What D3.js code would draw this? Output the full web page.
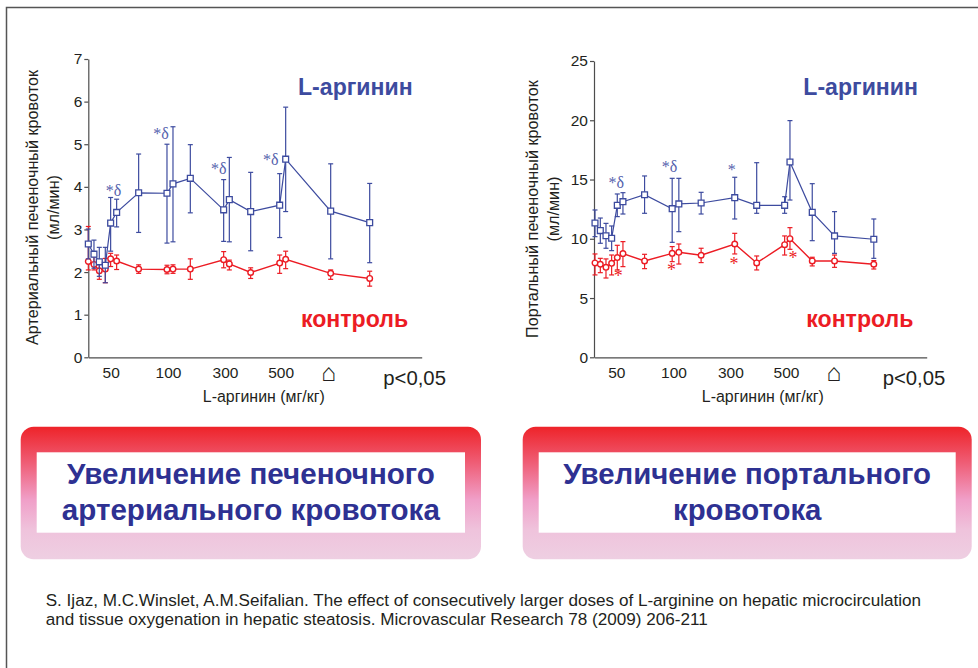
<!DOCTYPE html>
<html lang="ru">
<head>
<meta charset="utf-8">
<script src="https://cdn.jsdelivr.net/npm/d3@7"></script>
<style>
  body { margin: 0; background: #fff; }
  svg text { font-family: "Liberation Sans", Arial, Helvetica, sans-serif; }
</style>
</head>
<body>
<svg id="slide" width="978" height="668"></svg>
<script>
// x axis: dose labels placed along the time course (arbitrary units 0..100)
const doseTickT = [6.7, 23.9, 41, 57.7, 72];
const doseTicks = ["50", "100", "300", "500", "\u2302"];

// arterial flow (ml/min)
const artT = [0, 1.7, 3.3, 5.1, 6.7, 8.5, 15.1, 23.6, 25.4, 30.6, 40.6, 42.3, 48.7, 57.4, 59.2, 72.7, 84.4];
const artArg = [2.66, 2.42, 2.24, 2.16, 3.15, 3.40, 3.86, 3.85, 4.07, 4.20, 3.46, 3.70, 3.42, 3.57, 4.65, 3.43, 3.16];
const artArgUp = [0.35, 0.33, 0.34, 0.42, 0.60, 0.31, 0.91, 1.15, 1.34, 0.79, 0.71, 0.99, 0.92, 0.74, 1.22, 1.11, 0.92];
const artArgDn = [0.35, 0.33, 0.34, 0.41, 0.66, 0.34, 0.93, 1.17, 1.36, 0.81, 0.74, 0.99, 0.92, 0.76, 1.23, 1.12, 0.94];
const artCtl = [2.25, 2.18, 2.03, 2.07, 2.31, 2.26, 2.07, 2.06, 2.07, 2.07, 2.29, 2.19, 1.99, 2.21, 2.30, 1.97, 1.85];
const artCtlUp = [0.82, 0.18, 0.16, 0.25, 0.13, 0.14, 0.10, 0.10, 0.10, 0.24, 0.19, 0.09, 0.11, 0.19, 0.19, 0.08, 0.17];
const artCtlDn = [0.20, 0.13, 0.20, 0.32, 0.18, 0.20, 0.10, 0.10, 0.10, 0.24, 0.19, 0.14, 0.14, 0.24, 0.22, 0.14, 0.18];
const artYTicks = [0, 1, 2, 3, 4, 5, 6, 7];
const artNotesT = [7.6, 21.8, 39.1, 54.7];
const artNotesV = [3.79, 5.12, 4.30, 4.51];

// portal flow (ml/min)
const porT = [0.3, 1.9, 3.6, 5.3, 7.0, 8.7, 15.2, 23.5, 25.5, 32.2, 42.3, 48.9, 57.3, 58.9, 65.6, 72.3, 84.1];
const porArg = [11.33, 10.69, 10.26, 10.04, 12.82, 13.13, 13.72, 12.54, 12.94, 13.02, 13.47, 12.82, 12.82, 16.48, 12.23, 10.24, 9.96];
const porArgUp = [1.10, 1.06, 1.04, 1.04, 0.96, 0.76, 1.58, 2.56, 2.16, 0.90, 1.72, 3.60, 0.73, 3.49, 2.42, 2.05, 1.71];
const porArgDn = [1.15, 1.07, 1.06, 1.04, 0.95, 1.04, 1.57, 2.84, 2.34, 0.93, 1.80, 0.67, 0.67, 3.21, 2.39, 1.47, 1.61];
const porCtl = [7.96, 7.85, 7.59, 7.93, 8.41, 8.75, 8.13, 8.77, 8.86, 8.61, 9.56, 7.96, 9.50, 10.01, 8.13, 8.13, 7.85];
const porCtlUp = [0.76, 0.50, 0.71, 0.70, 1.04, 1.01, 0.56, 0.57, 0.70, 0.59, 0.90, 0.59, 0.74, 0.93, 0.31, 0.50, 0.31];
const porCtlDn = [1.01, 0.71, 0.90, 0.98, 1.04, 1.10, 0.65, 0.70, 0.99, 0.62, 0.84, 0.59, 0.87, 0.90, 0.42, 0.54, 0.40];
const porYTicks = [0, 5, 10, 15, 20, 25];
const porNotesT = [6.7, 22.7, 41.4];
const porNotesV = [14.26, 15.66, 15.36];
const porNotesTxt = ["*\u03b4", "*\u03b4", "*"];
const porCtlNotesT = [7.3, 23.3, 42.1, 59.8];
const porCtlNotesV = [6.35, 6.84, 7.39, 7.90];

const citation = [
    "S. Ijaz, M.C.Winslet, A.M.Seifalian. The effect of consecutively larger doses of L-arginine on hepatic microcirculation",
    "and tissue oxygenation in hepatic steatosis. Microvascular Research 78 (2009) 206-211"
];

const BLUE = "#3d4b9f",
    RED = "#ec1c24",
    NAVY = "#2e3192",
    AXIS = "#4d4d4d",
    INK = "#231f20";

const svg = d3.select("#slide");

/**
 * scale the font of a text node so that its advance width becomes w,
 * returns the font size used
 */
function fitWidth(node, w) {
    const fs = parseFloat(getComputedStyle(node).fontSize);
    const size = fs * w / node.getComputedTextLength();
    d3.select(node).style("font-size", size.toFixed(2) + "px");
    return size;
}

// page frame (top and left rule)
svg.append("path")
    .attr("d", "M6.5,668V7.5H978")
    .attr("fill", "none")
    .attr("stroke", "#555")
    .attr("stroke-width", 1.5);

// box gradient
const grad = svg.append("defs").append("linearGradient")
    .attr("id", "boxGrad")
    .attr("x1", 0).attr("y1", 0).attr("x2", 0).attr("y2", 1);
[["0%", "#ee2329"], ["28%", "#ef5f78"], ["55%", "#f09fc8"], ["78%", "#efc3dc"], ["100%", "#eecfe2"]]
    .forEach(s => grad.append("stop").attr("offset", s[0]).attr("stop-color", s[1]));

/**
 * draw one series: connecting line, error bars, then markers
 */
function drawSeries(g, x, y, t, mean, up, dn, color, shape) {
    const s = g.append("g");

    s.append("path")
        .datum(mean)
        .attr("fill", "none")
        .attr("stroke", color)
        .attr("stroke-width", shape === "square" ? 1.2 : 1.4)
        .attr("d", d3.line().x((d, i) => x(t[i])).y(d => y(d)));

    const bars = s.selectAll("g.err")
        .data(mean)
        .enter()
        .append("g")
        .attr("class", "err")
        .attr("stroke", color)
        .attr("stroke-width", 1.2);

    bars.append("line")
        .attr("x1", (d, i) => x(t[i])).attr("x2", (d, i) => x(t[i]))
        .attr("y1", (d, i) => y(d + up[i])).attr("y2", (d, i) => y(d - dn[i]));
    bars.append("line")
        .attr("x1", (d, i) => x(t[i]) - 2.5).attr("x2", (d, i) => x(t[i]) + 2.5)
        .attr("y1", (d, i) => y(d + up[i])).attr("y2", (d, i) => y(d + up[i]));
    bars.append("line")
        .attr("x1", (d, i) => x(t[i]) - 2.5).attr("x2", (d, i) => x(t[i]) + 2.5)
        .attr("y1", (d, i) => y(d - dn[i])).attr("y2", (d, i) => y(d - dn[i]));

    if (shape === "square") {
        s.selectAll("path.mark")
            .data(mean)
            .enter()
            .append("path")
            .attr("class", "mark")
            .attr("d", d3.symbol(d3.symbolSquare, 34))
            .attr("transform", (d, i) => `translate(${x(t[i])},${y(d)})`)
            .attr("fill", "#fff")
            .attr("stroke", color)
            .attr("stroke-width", 1.3);
    } else {
        s.selectAll("circle.mark")
            .data(mean)
            .enter()
            .append("circle")
            .attr("class", "mark")
            .attr("cx", (d, i) => x(t[i]))
            .attr("cy", d => y(d))
            .attr("r", 2.8)
            .attr("fill", "#fff")
            .attr("stroke", color)
            .attr("stroke-width", 1.4);
    }
}

/**
 * significance marks (*, *δ) in data coordinates
 */
function drawNotes(g, x, y, t, v, labels, color, size) {
    g.selectAll(null)
        .data(v)
        .enter()
        .append("text")
        .attr("x", (d, i) => x(t[i]))
        .attr("y", d => y(d))
        .attr("text-anchor", "middle")
        .style("font-family", "'Liberation Serif', 'Times New Roman', serif")
        .style("font-size", size + "px")
        .attr("fill", color)
        .text((d, i) => labels[i]);
}

/**
 * one chart panel with axes, labels and both series
 */
function drawPanel(p) {
    const g = svg.append("g").attr("transform", `translate(${p.left},0)`);
    const x = d3.scaleLinear().domain([0, 100]).range([0, p.width]);
    const y = d3.scaleLinear().domain([0, p.yMax]).range([357.3, p.top]);

    const yAxis = g.append("g")
        .call(d3.axisLeft(y).tickValues(p.yTicks).tickFormat(d3.format("d"))
            .tickSize(4).tickSizeOuter(0).tickPadding(2));
    const xAxis = g.append("g")
        .attr("transform", "translate(0,357.3)")
        .call(d3.axisBottom(x).tickValues(doseTickT).tickFormat((d, i) => doseTicks[i])
            .tickSize(0).tickSizeOuter(0).tickPadding(10));

    [yAxis, xAxis].forEach(a => {
        a.select(".domain").attr("stroke", AXIS).attr("stroke-width", 1.2);
        a.selectAll(".tick line").attr("stroke", AXIS).attr("stroke-width", 1.2);
        a.selectAll(".tick text")
            .attr("fill", INK)
            .style("font-family", "'Liberation Sans', Arial, sans-serif")
            .style("font-size", "15.5px");
    });
    // house glyph for the wash-out period
    xAxis.selectAll(".tick text")
        .filter((d, i) => i === doseTicks.length - 1)
        .style("font-family", "'DejaVu Sans', sans-serif")
        .style("font-weight", "200")
        .style("font-size", "25px")
        .attr("dy", "0.56em");

    // y axis title (two lines, rotated)
    const yt = g.append("g")
        .attr("transform", `translate(${p.yTitleX},${p.yTitleY}) rotate(-90)`)
        .attr("text-anchor", "middle")
        .attr("fill", INK)
        .style("font-size", "15px");
    const yt1 = yt.append("text").attr("y", 0).text(p.yTitle);
    const fs = fitWidth(yt1.node(), p.yTitleLen);
    yt.append("text").attr("y", 21).style("font-size", fs + "px").text("(мл/мин)");

    // x axis title
    const xt = g.append("text")
        .attr("x", p.xTitleX)
        .attr("y", 401.7)
        .attr("text-anchor", "middle")
        .attr("fill", INK)
        .style("font-size", "14.5px")
        .text("L-аргинин (мг/кг)");
    fitWidth(xt.node(), 122);

    const pv = g.append("text")
        .attr("x", p.pX)
        .attr("y", 384.5)
        .attr("fill", INK)
        .style("font-size", "20px")
        .text("p<0,05");
    fitWidth(pv.node(), 62.7);

    drawSeries(g, x, y, p.t, p.ctl, p.ctlUp, p.ctlDn, RED, "circle");
    drawSeries(g, x, y, p.t, p.arg, p.argUp, p.argDn, BLUE, "square");

    drawNotes(g, x, y, p.notesT, p.notesV, p.notesTxt, "#5562ad", 16);
    if (p.ctlNotesT) drawNotes(g, x, y, p.ctlNotesT, p.ctlNotesV, p.ctlNotesV.map(() => "*"), RED, 18);

    // series names
    const n1 = g.append("text")
        .attr("x", p.nameX)
        .attr("y", 95)
        .attr("fill", BLUE)
        .style("font-weight", "bold")
        .style("font-size", "22px")
        .text("L-аргинин");
    const nfs = fitWidth(n1.node(), 114.7);
    g.append("text")
        .attr("x", p.nameX + 3)
        .attr("y", 326.7)
        .attr("fill", RED)
        .style("font-weight", "bold")
        .style("font-size", nfs + "px")
        .text("контроль");
}

/**
 * gradient rounded box with a white plate and the conclusion text
 */
function drawBox(x0, w, lines) {
    const g = svg.append("g");
    g.append("rect")
        .attr("x", x0).attr("y", 426.7)
        .attr("width", w).attr("height", 132.6)
        .attr("rx", 13)
        .attr("fill", "url(#boxGrad)");
    g.append("rect")
        .attr("x", x0 + 16).attr("y", 452.3)
        .attr("width", w - 32).attr("height", 80.4)
        .attr("fill", "#fff");
    const txt = g.selectAll("text.box")
        .data(lines)
        .enter()
        .append("text")
        .attr("class", "box")
        .attr("x", x0 + w / 2)
        .attr("y", (d, i) => 484 + i * 36)
        .attr("text-anchor", "middle")
        .attr("fill", NAVY)
        .style("font-weight", "bold")
        .style("font-size", "28px")
        .text(d => d);
    const fs = fitWidth(txt.nodes()[0], 368);
    txt.style("font-size", fs + "px");
}

drawPanel({
    left: 88.3, width: 333.4, top: 59, yMax: 7, yTicks: artYTicks,
    t: artT, arg: artArg, argUp: artArgUp, argDn: artArgDn,
    ctl: artCtl, ctlUp: artCtlUp, ctlDn: artCtlDn,
    notesT: artNotesT, notesV: artNotesV, notesTxt: artNotesV.map(() => "*\u03b4"),
    yTitle: "Артериальный печеночный кровоток", yTitleX: -50, yTitleY: 207.5, yTitleLen: 275,
    xTitleX: 175.5, pX: 295, nameX: 209.7
});

drawPanel({
    left: 594, width: 332.7, top: 61, yMax: 25, yTicks: porYTicks,
    t: porT, arg: porArg, argUp: porArgUp, argDn: porArgDn,
    ctl: porCtl, ctlUp: porCtlUp, ctlDn: porCtlDn,
    notesT: porNotesT, notesV: porNotesV, notesTxt: porNotesTxt,
    ctlNotesT: porCtlNotesT, ctlNotesV: porCtlNotesV,
    yTitle: "Портальный печеночный кровоток", yTitleX: -55.7, yTitleY: 209, yTitleLen: 258,
    xTitleX: 168.8, pX: 288.7, nameX: 209.3
});

drawBox(20.7, 460.3, ["Увеличение печеночного", "артериального кровотока"]);
drawBox(522.7, 449, ["Увеличение портального", "кровотока"]);

const cite = svg.selectAll("text.cite")
    .data(citation)
    .enter()
    .append("text")
    .attr("class", "cite")
    .attr("x", 45.7)
    .attr("y", (d, i) => 605.7 + i * 19.3)
    .attr("fill", INK)
    .style("font-size", "14.5px")
    .text(d => d);
const cfs = fitWidth(cite.nodes()[0], 876);
cite.style("font-size", cfs + "px");
</script>
</body>
</html>
